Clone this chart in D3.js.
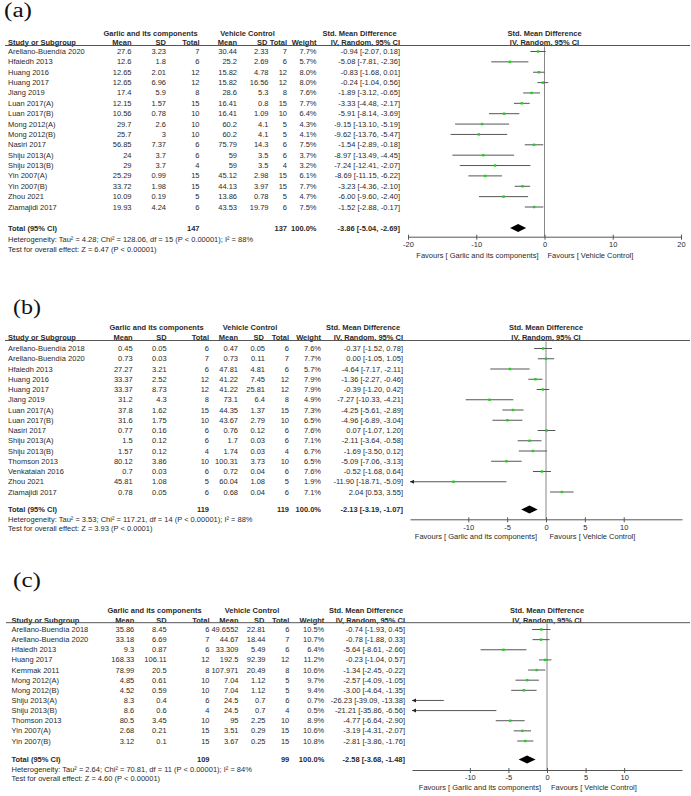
<!DOCTYPE html>
<html><head><meta charset="utf-8">
<script src="https://cdn.jsdelivr.net/npm/d3@7"></script>
<style>body{margin:0;background:#fff}svg{display:block}</style>
</head><body>
<script>
// ---------- Panel (a) ----------
const studiesA = ["Arellano-Buendía 2020","Hfaiedh 2013","Huang 2016","Huang 2017","Jiang 2019","Luan 2017(A)","Luan 2017(B)","Mong 2012(A)","Mong 2012(B)","Nasiri 2017","Shiju 2013(A)","Shiju 2013(B)","Yin 2007(A)","Yin 2007(B)","Zhou 2021","Ziamajidi 2017"];
const garlicMeanA = ["27.6","12.6","12.65","12.65","17.4","12.15","10.56","29.7","25.7","56.85","24","29","25.29","33.72","10.09","19.93"];
const garlicSDA = ["3.23","1.8","2.01","6.96","5.9","1.57","0.78","2.6","3","7.37","3.7","3.7","0.99","1.98","0.19","4.24"];
const garlicNA = [7,6,12,12,8,15,10,10,10,6,6,4,15,15,5,6];
const vehMeanA = ["30.44","25.2","15.82","15.82","28.6","16.41","16.41","60.2","60.2","75.79","59","59","45.12","44.13","13.86","43.53"];
const vehSDA = ["2.33","2.69","4.78","16.56","5.3","0.8","1.09","4.1","4.1","14.3","3.5","3.5","2.98","3.97","0.78","19.79"];
const vehNA = [7,6,12,12,8,15,10,5,5,6,6,4,15,15,5,6];
const weightA = [7.7,5.7,8.0,8.0,7.6,7.7,6.4,4.3,4.1,7.5,3.7,3.2,6.1,7.7,4.7,7.5];
const smdA = [-0.94,-5.08,-0.83,-0.24,-1.89,-3.33,-5.91,-9.15,-9.62,-1.54,-8.97,-7.24,-8.69,-3.23,-6.00,-1.52];
const lowerA = [-2.07,-7.81,-1.68,-1.04,-3.12,-4.48,-8.14,-13.10,-13.76,-2.89,-13.49,-12.41,-11.15,-4.36,-9.60,-2.88];
const upperA = [0.18,-2.36,0.01,0.56,-0.65,-2.17,-3.69,-5.19,-5.47,-0.18,-4.45,-2.07,-6.22,-2.10,-2.40,-0.17];
const totalNA = [147,137];
const totalEffectA = [-3.86,-5.04,-2.69];
const hetA = "Heterogeneity: Tau² = 4.28; Chi² = 128.06, df = 15 (P < 0.00001); I² = 88%";
const testA = "Test for overall effect: Z = 6.47 (P < 0.00001)";
const ticksA = [-20,-10,0,10,20];

// ---------- Panel (b) ----------
const studiesB = ["Arellano-Buendía  2018","Arellano-Buendía 2020","Hfaiedh 2013","Huang 2016","Huang 2017","Jiang 2019","Luan 2017(A)","Luan 2017(B)","Nasiri 2017","Shiju 2013(A)","Shiju 2013(B)","Thomson 2013","Venkataiah 2016","Zhou 2021","Ziamajidi 2017"];
const garlicMeanB = ["0.45","0.73","27.27","33.37","33.37","31.2","37.8","31.6","0.77","1.5","1.57","80.12","0.7","45.81","0.78"];
const garlicSDB = ["0.05","0.03","3.21","2.52","8.73","4.3","1.62","1.75","0.16","0.12","0.12","3.86","0.03","1.08","0.05"];
const garlicNB = [6,7,6,12,12,8,15,10,6,6,4,10,6,5,6];
const vehMeanB = ["0.47","0.73","47.81","41.22","41.22","73.1","44.35","43.67","0.76","1.7","1.74","100.31","0.72","60.04","0.68"];
const vehSDB = ["0.05","0.11","4.81","7.45","25.81","6.4","1.37","2.79","0.12","0.03","0.03","3.73","0.04","1.08","0.04"];
const vehNB = [6,7,6,12,12,8,15,10,6,6,4,10,6,5,6];
const weightB = [7.6,7.7,5.7,7.9,7.9,4.9,7.3,6.5,7.6,7.1,6.7,6.5,7.6,1.9,7.1];
const smdB = [-0.37,0.00,-4.64,-1.36,-0.39,-7.27,-4.25,-4.96,0.07,-2.11,-1.69,-5.09,-0.52,-11.90,2.04];
const lowerB = [-1.52,-1.05,-7.17,-2.27,-1.20,-10.33,-5.61,-6.89,-1.07,-3.64,-3.50,-7.06,-1.68,-18.71,0.53];
const upperB = [0.78,1.05,-2.11,-0.46,0.42,-4.21,-2.89,-3.04,1.20,-0.58,0.12,-3.13,0.64,-5.09,3.55];
const totalNB = [119,119];
const totalEffectB = [-2.13,-3.19,-1.07];
const hetB = "Heterogeneity: Tau² = 3.53; Chi² = 117.21, df = 14 (P < 0.00001); I² = 88%";
const testB = "Test for overall effect: Z = 3.93 (P < 0.0001)";
const ticksB = [-10,-5,0,5,10];

// ---------- Panel (c) ----------
const studiesC = ["Arellano-Buendía  2018","Arellano-Buendía 2020","Hfaiedh 2013","Huang 2017","Kemmak 2011","Mong 2012(A)","Mong 2012(B)","Shiju 2013(A)","Shiju 2013(B)","Thomson 2013","Yin 2007(A)","Yin 2007(B)"];
const garlicMeanC = ["35.86","33.18","9.3","168.33","78.99","4.85","4.52","8.3","8.6","80.5","2.68","3.12"];
const garlicSDC = ["8.45","6.69","0.87","106.11","20.5","0.61","0.59","0.4","0.6","3.45","0.21","0.1"];
const garlicNC = [6,7,6,12,8,10,10,6,4,10,15,15];
const vehMeanC = ["49.6552","44.67","33.309","192.5","107.971","7.04","7.04","24.5","24.5","95","3.51","3.67"];
const vehSDC = ["22.81","18.44","5.49","92.39","20.49","1.12","1.12","0.7","0.7","2.25","0.29","0.25"];
const vehNC = [6,7,6,12,8,5,5,6,4,10,15,15];
const weightC = [10.5,10.7,6.4,11.2,10.6,9.7,9.4,0.7,0.5,8.9,10.6,10.8];
const smdC = [-0.74,-0.78,-5.64,-0.23,-1.34,-2.57,-3.00,-26.23,-21.21,-4.77,-3.19,-2.81];
const lowerC = [-1.93,-1.88,-8.61,-1.04,-2.45,-4.09,-4.64,-39.09,-35.86,-6.64,-4.31,-3.86];
const upperC = [0.45,0.33,-2.66,0.57,-0.22,-1.05,-1.35,-13.38,-6.56,-2.90,-2.07,-1.76];
const totalNC = [109,99];
const totalEffectC = [-2.58,-3.68,-1.48];
const hetC = "Heterogeneity: Tau² = 2.64; Chi² = 70.81, df = 11 (P < 0.00001); I² = 84%";
const testC = "Test for overall effect: Z = 4.60 (P < 0.00001)";
const ticksC = [-10,-5,0,5,10];

const panelLabels = ["(a)","(b)","(c)"];
const favoursLeft = "Favours [ Garlic and its components]";
const favoursRight = "Favours [ Vehicle Control]";

// ---------- layout ----------
const W = 691, H = 796;
const FONT = "'Liberation Sans', Arial, Helvetica, sans-serif";
const FS = 7.5;
const INK = "#2a2a2a";

const layouts = [
  {lx:4, ly:17, h1:33, h2:42.5, rule:45.5, r0:51.5, rN:207, tot:228, het:239, test:249, axis:236.7, fav:255.3,
   dom:[-20,20], rng:[408,681], name:8, gM:131.5, gS:166, gN:199.5, vM:237, vS:268.5, vN:287, wt:316.5, ci:400,
   gC:150.5, vC:247.5, sC:359.5, ruleX0:5, favL:6, favR:3},
  {lx:13, ly:314, h1:327.5, h2:337.5, rule:340.5, r0:348.5, rN:492, tot:509.5, het:519, test:528.5, axis:519.3, fav:536.7,
   dom:[-17.5,17.5], rng:[410,682], name:8, gM:132.7, gS:166.7, gN:209, vM:238, vS:265, vN:289, wt:321, ci:403,
   gC:156.5, vC:250, sC:363, ruleX0:5, favL:9, favR:3.5},
  {lx:13, ly:587, h1:610, h2:620, rule:622.7, r0:629.5, rN:741, tot:759.5, het:769, test:778.3, axis:770, fav:787.3,
   dom:[-17.5,17.5], rng:[412,682], name:11.5, gM:134.3, gS:166.7, gN:209.5, vM:238.5, vS:265.5, vN:289.3, wt:324.3, ci:405,
   gC:154.5, vC:252, sC:366, ruleX0:6, favL:6, favR:4}
];

function buildRows(st, gm, gs, gn, vm, vs, vn, w, e, lo, hi) {
  return st.map((s,i)=>({name:s, gm:gm[i], gs:gs[i], gn:gn[i], vm:vm[i], vs:vs[i], vn:vn[i], w:w[i], e:e[i], lo:lo[i], hi:hi[i]}));
}
const panels = [
  {rows: buildRows(studiesA,garlicMeanA,garlicSDA,garlicNA,vehMeanA,vehSDA,vehNA,weightA,smdA,lowerA,upperA), totN:totalNA, totE:totalEffectA, het:hetA, test:testA, ticks:ticksA},
  {rows: buildRows(studiesB,garlicMeanB,garlicSDB,garlicNB,vehMeanB,vehSDB,vehNB,weightB,smdB,lowerB,upperB), totN:totalNB, totE:totalEffectB, het:hetB, test:testB, ticks:ticksB},
  {rows: buildRows(studiesC,garlicMeanC,garlicSDC,garlicNC,vehMeanC,vehSDC,vehNC,weightC,smdC,lowerC,upperC), totN:totalNC, totE:totalEffectC, het:hetC, test:testC, ticks:ticksC}
];

const svg = d3.select("body").append("svg").attr("width",W).attr("height",H)
  .style("font-family",FONT).style("font-size",FS+"px");

const fmt = v => v.toFixed(2);
const ciText = (e,lo,hi) => `${fmt(e)} [${fmt(lo)}, ${fmt(hi)}]`;

function txt(g, x, y, s, anchor, bold) {
  return g.append("text").attr("x",x).attr("y",y).attr("dominant-baseline","central")
    .attr("text-anchor",anchor||"start").attr("fill",INK)
    .attr("font-weight",bold?"bold":"normal").text(s);
}

panels.forEach((P, pi) => {
  const L = layouts[pi];
  const g = svg.append("g");
  // panel label
  g.append("text").attr("x",L.lx).attr("y",L.ly).attr("font-family","'Liberation Serif', 'Times New Roman', serif")
    .attr("font-size",20).attr("fill","#111").attr("textLength",28).attr("lengthAdjust","spacingAndGlyphs")
    .text(panelLabels[pi]);

  const x = d3.scaleLinear().domain(L.dom).range(L.rng);
  const y = d3.scaleLinear().domain([0, P.rows.length-1]).range([L.r0, L.rN]);

  // headers
  txt(g, L.gC, L.h1, "Garlic and its components", "middle", true);
  txt(g, L.vC, L.h1, "Vehicle Control", "middle", true);
  txt(g, L.sC, L.h1, "Std. Mean Difference", "middle", true);
  txt(g, x(0), L.h1, "Std. Mean Difference", "middle", true);
  txt(g, L.name, L.h2, "Study or Subgroup", "start", true);
  [["Mean",L.gM],["SD",L.gS],["Total",L.gN],["Mean",L.vM],["SD",L.vS-1],["Total",L.vN],["Weight",L.wt],["IV, Random, 95% CI",L.ci]]
    .forEach(([s,xx]) => txt(g, xx, L.h2, s, "end", true));
  txt(g, x(0), L.h2, "IV, Random, 95% CI", "middle", true);
  g.append("line").attr("x1",L.ruleX0).attr("x2",690).attr("y1",L.rule).attr("y2",L.rule)
    .attr("stroke","#555").attr("stroke-width",1);

  // rows text
  P.rows.forEach((r,i) => {
    const yy = y(i);
    txt(g, L.name, yy, r.name);
    txt(g, L.gM, yy, r.gm, "end");
    txt(g, L.gS, yy, r.gs, "end");
    txt(g, L.gN, yy, r.gn, "end");
    txt(g, L.vM, yy, r.vm, "end");
    txt(g, L.vS, yy, r.vs, "end");
    txt(g, L.vN, yy, r.vn, "end");
    txt(g, L.wt, yy, r.w.toFixed(1)+"%", "end");
    txt(g, L.ci, yy, ciText(r.e, r.lo, r.hi), "end");
  });

  // total row
  txt(g, L.name, L.tot, "Total (95% CI)", "start", true);
  txt(g, L.gN, L.tot, P.totN[0], "end", true);
  txt(g, L.vN, L.tot, P.totN[1], "end", true);
  txt(g, L.wt, L.tot, "100.0%", "end", true);
  txt(g, L.ci, L.tot, ciText(P.totE[0], P.totE[1], P.totE[2]), "end", true);
  txt(g, L.name, L.het, P.het);
  txt(g, L.name, L.test, P.test);

  // zero line
  g.append("line").attr("x1",x(0)).attr("x2",x(0)).attr("y1",L.rule+1).attr("y2",L.axis)
    .attr("stroke","#888").attr("stroke-width",1);

  // CIs
  const [d0,d1] = L.dom;
  P.rows.forEach((r,i) => {
    const yy = y(i);
    const lo = Math.max(r.lo, d0), hi = Math.min(r.hi, d1);
    g.append("line").attr("x1",x(lo)).attr("x2",x(hi)).attr("y1",yy).attr("y2",yy)
      .attr("stroke","#555").attr("stroke-width",1);
    if (r.lo < d0) {
      const ax = x(d0);
      g.append("path").attr("d",`M${ax},${yy}L${ax+4},${yy-2}L${ax+4},${yy+2}Z`).attr("fill","#222");
    }
    if (r.e >= d0 && r.e <= d1) {
      const s = 2.4;
      g.append("rect").attr("x",x(r.e)-s/2).attr("y",yy-s/2).attr("width",s).attr("height",s)
        .attr("fill","#19d219");
    }
  });

  // diamond
  const [te, tl, th] = P.totE;
  g.append("path").attr("d",`M${x(tl)},${L.tot}L${x(te)},${L.tot-4}L${x(th)},${L.tot}L${x(te)},${L.tot+4}Z`)
    .attr("fill","#000");

  // axis
  const axis = d3.axisBottom(x).tickValues(P.ticks).tickFormat(d=>String(d)).tickSizeInner(3).tickSizeOuter(0).tickPadding(2);
  const ag = g.append("g").attr("transform",`translate(0,${L.axis})`).call(axis);
  ag.select(".domain").attr("stroke","#555");
  ag.selectAll(".tick line").attr("stroke","#555").attr("y1",-2);
  ag.selectAll(".tick text").attr("fill",INK).style("font-family",FONT).style("font-size",FS+"px");

  txt(g, x(0)-L.favL, L.fav, favoursLeft, "end");
  txt(g, x(0)+L.favR, L.fav, favoursRight, "start");
});
</script>
</body></html>
